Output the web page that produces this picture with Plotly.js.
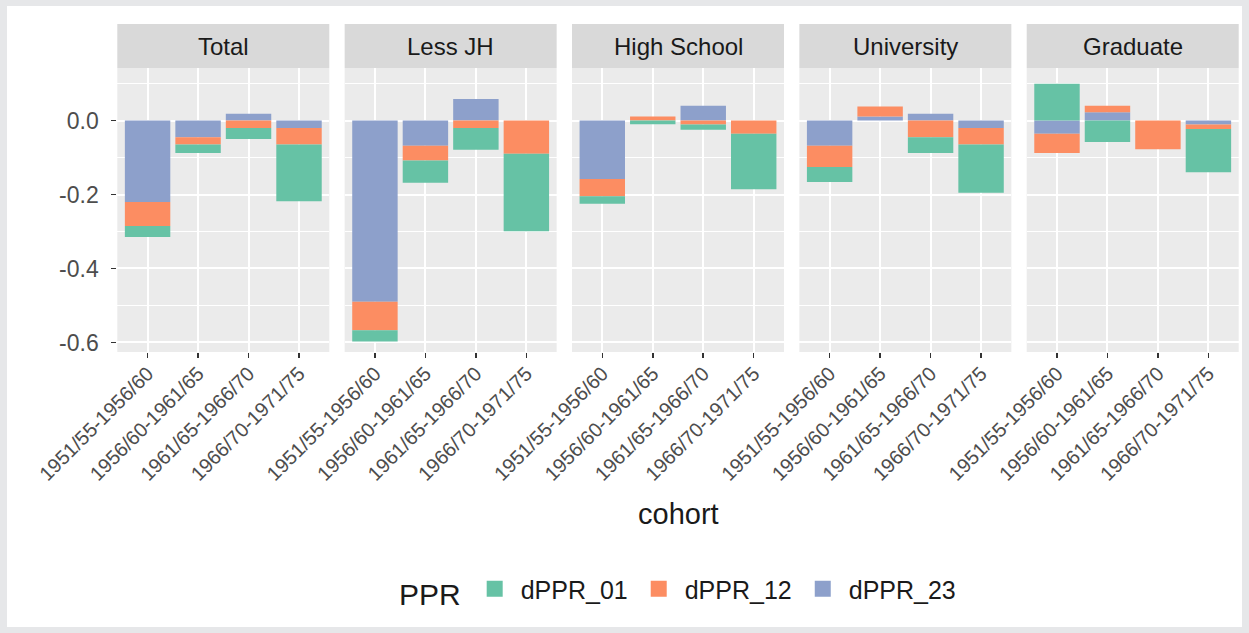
<!DOCTYPE html>
<html>
<head>
<meta charset="utf-8">
<script src="https://cdn.plot.ly/plotly-3.0.1.min.js"></script>
<style>
  html, body { margin: 0; padding: 0; background: #e6e7e9; }
  #chart { position: absolute; left: 7px; top: 6px; width: 1235px; height: 621px; background: #ffffff; }
</style>
</head>
<body>
<div id="chart"></div>
<script>
// Facet panels and x categories
const groups = ["Total", "Less JH", "High School", "University", "Graduate"];
const cohorts = ["1951/55-1956/60", "1956/60-1961/65", "1961/65-1966/70", "1966/70-1971/75"];

// Series values, one row per panel (same order as groups)
const dPPR_01 = [
  [-0.030, -0.023, -0.030, -0.153],
  [-0.030, -0.060, -0.059, -0.209],
  [-0.020, -0.010, -0.014, -0.150],
  [-0.040,  0.000, -0.043, -0.130],
  [ 0.099, -0.058,  0.000, -0.117]
];
const dPPR_12 = [
  [-0.065, -0.020, -0.020, -0.045],
  [-0.077, -0.040, -0.020, -0.090],
  [-0.047,  0.011, -0.011, -0.036],
  [-0.058,  0.027, -0.045, -0.045],
  [-0.052,  0.018, -0.078, -0.012]
];
const dPPR_23 = [
  [-0.220, -0.045,  0.018, -0.020],
  [-0.490, -0.068,  0.058,  0.000],
  [-0.158,  0.000,  0.040,  0.000],
  [-0.068,  0.011,  0.018, -0.020],
  [-0.036,  0.022,  0.000, -0.011]
];

const seriesNames = ["dPPR_01", "dPPR_12", "dPPR_23"];
const seriesColors = ["#66C2A5", "#FC8D62", "#8DA0CB"];
const yTickVals = [0, -0.2, -0.4, -0.6];
const yTickText = ["0.0", "-0.2", "-0.4", "-0.6"];
const yMinorVals = [0.1, -0.1, -0.3, -0.5];

// Figure geometry in pixels (figure is 1235 x 621)
const W = 1235, H = 621;
const panelLeft0 = 110.3, panelStep = 227.35, panelW = 212;
const plotTop = 62, plotBottom = 346, stripTop = 18;
const px = v => v / W;
const py = v => 1 - v / H;

const FONT = "Liberation Sans, Arial, sans-serif";
const seriesData = [dPPR_01, dPPR_12, dPPR_23];

const traces = [];
// Stacking order: dPPR_23 nearest zero, then dPPR_12, then dPPR_01
groups.forEach((g, i) => {
  const xa = i === 0 ? "x" : "x" + (i + 1);
  const ya = i === 0 ? "y" : "y" + (i + 1);
  [2, 1, 0].forEach(s => {
    traces.push({
      type: "bar",
      x: cohorts,
      y: seriesData[s][i],
      xaxis: xa,
      yaxis: ya,
      name: seriesNames[s],
      legendgroup: seriesNames[s],
      showlegend: false,
      marker: { color: seriesColors[s], line: { width: 0 } },
      hoverinfo: "x+y+name"
    });
  });
});

// Legend keys
seriesNames.forEach((n, s) => {
  traces.push({
    type: "scatter",
    mode: "markers",
    x: [null], y: [null],
    xaxis: "x", yaxis: "y",
    name: n,
    legendgroup: n,
    showlegend: true,
    marker: { symbol: "square", size: 20, color: seriesColors[s] }
  });
});

const layout = {
  width: W,
  height: H,
  margin: { l: 0, r: 0, t: 0, b: 0 },
  paper_bgcolor: "#ffffff",
  plot_bgcolor: "#EBEBEB",
  barmode: "relative",
  bargap: 0.1,
  font: { family: FONT, color: "#4D4D4D" },
  showlegend: true,
  legend: {
    orientation: "h",
    x: px(672), xanchor: "center",
    y: py(560), yanchor: "top",
    font: { family: FONT, size: 25, color: "#1A1A1A" },
    title: { text: "PPR", font: { family: FONT, size: 30, color: "#1A1A1A" }, side: "left" },
    itemwidth: 42,
    bgcolor: "rgba(0,0,0,0)"
  },
  shapes: [],
  annotations: []
};

groups.forEach((g, i) => {
  const sfx = i === 0 ? "" : String(i + 1);
  const x0 = panelLeft0 + panelStep * i;
  const x1 = x0 + panelW;
  layout["xaxis" + sfx] = {
    domain: [px(x0), px(x1)],
    anchor: "y" + sfx,
    type: "category",
    range: [-0.6, 3.6],
    showgrid: true,
    gridcolor: "#FFFFFF",
    gridwidth: 2,
    zeroline: false,
    showline: false,
    ticks: "outside",
    ticklen: 5,
    tickwidth: 1.5,
    tickcolor: "#333333",
    tickangle: -45,
    ticklabelstandoff: -4,
    tickfont: { family: FONT, size: 20, color: "#4D4D4D" },
    fixedrange: true
  };
  layout["yaxis" + sfx] = {
    domain: [py(plotBottom), py(plotTop)],
    anchor: "x" + sfx,
    range: [-0.6257, 0.1419],
    tickmode: "array",
    tickvals: yTickVals,
    ticktext: yTickText,
    showticklabels: i === 0,
    ticks: i === 0 ? "outside" : "",
    ticklen: 5,
    tickwidth: 1.5,
    tickcolor: "#333333",
    ticklabelstandoff: 8,
    tickfont: { family: FONT, size: 23, color: "#4D4D4D" },
    showgrid: true,
    gridcolor: "#FFFFFF",
    gridwidth: 2,
    minor: { tickmode: "array", tickvals: yMinorVals, showgrid: true, gridcolor: "#FFFFFF", gridwidth: 1, ticks: "" },
    zeroline: false,
    showline: false,
    fixedrange: true
  };
  if (i > 0) layout["yaxis" + sfx].matches = "y";

  // facet strip
  layout.shapes.push({
    type: "rect", xref: "paper", yref: "paper",
    x0: px(x0), x1: px(x1), y0: py(plotTop), y1: py(stripTop),
    fillcolor: "#D9D9D9", line: { width: 0 }, layer: "above"
  });
  layout.annotations.push({
    xref: "paper", yref: "paper",
    x: px((x0 + x1) / 2), y: py((plotTop + stripTop) / 2 + 1),
    xanchor: "center", yanchor: "middle",
    text: g, showarrow: false,
    font: { family: FONT, size: 24, color: "#1A1A1A" }
  });
});

// shared x axis title
layout.annotations.push({
  xref: "paper", yref: "paper",
  x: px((panelLeft0 + panelLeft0 + panelStep * 4 + panelW) / 2), y: py(508),
  xanchor: "center", yanchor: "middle",
  text: "cohort", showarrow: false,
  font: { family: FONT, size: 29, color: "#1A1A1A" }
});

Plotly.newPlot("chart", traces, layout, { displayModeBar: false, staticPlot: true });
</script>
</body>
</html>
